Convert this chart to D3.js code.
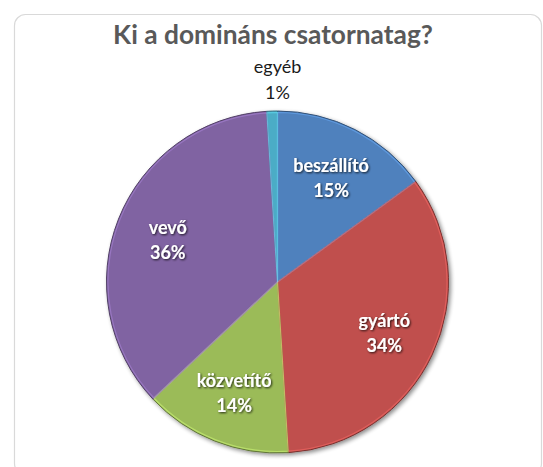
<!DOCTYPE html>
<html>
<head>
<meta charset="utf-8">
<script src="https://cdn.jsdelivr.net/npm/d3@7"></script>
<style>
  html, body { margin: 0; padding: 0; background: #fff; }
  svg { display: block; }
</style>
</head>
<body>
<svg id="chart" width="543" height="467"></svg>
<script>
// Channel members and their share (%), clockwise from 12 o'clock
const categories = ["beszállító", "gyártó", "közvetítő", "vevő", "egyéb"];
const shares = [15, 34, 14, 36, 1];
const labels = ["15%", "34%", "14%", "36%", "1%"];
const colors = ["#4F81BD", "#C0504D", "#9BBB59", "#8064A2", "#4BACC6"];
const title = "Ki a domináns csatornatag?";

const W = 543, H = 467;
const cx = 277.5, cy = 282, R = 171;
const FONT = "Lato, 'Open Sans', sans-serif";

const svg = d3.select("#chart");
const defs = svg.append("defs");

// soft shadow under the pie
const sh = defs.append("filter").attr("id", "pieShadow")
  .attr("x", "-10%").attr("y", "-10%").attr("width", "120%").attr("height", "120%");
sh.append("feGaussianBlur").attr("in", "SourceAlpha").attr("stdDeviation", 2.2).attr("result", "b");
sh.append("feOffset").attr("in", "b").attr("dx", 2).attr("dy", 2).attr("result", "o");
sh.append("feComponentTransfer").attr("in", "o").attr("result", "s")
  .append("feFuncA").attr("type", "linear").attr("slope", 0.45);
const m = sh.append("feMerge");
m.append("feMergeNode").attr("in", "s");
m.append("feMergeNode").attr("in", "SourceGraphic");

// text shadow for the white in-slice labels
const ts = defs.append("filter").attr("id", "txtShadow")
  .attr("x", "-20%").attr("y", "-30%").attr("width", "140%").attr("height", "160%");
ts.append("feGaussianBlur").attr("in", "SourceAlpha").attr("stdDeviation", 0.9).attr("result", "b");
ts.append("feOffset").attr("in", "b").attr("dx", 1).attr("dy", 1).attr("result", "o");
ts.append("feComponentTransfer").attr("in", "o").attr("result", "s")
  .append("feFuncA").attr("type", "linear").attr("slope", 0.8);
const tm = ts.append("feMerge");
tm.append("feMergeNode").attr("in", "s");
tm.append("feMergeNode").attr("in", "SourceGraphic");

// chart area frame
svg.append("rect")
  .attr("x", 14.5).attr("y", 14.5).attr("width", 527).attr("height", 460)
  .attr("rx", 11).attr("ry", 11)
  .attr("fill", "#fff").attr("stroke", "#d9d9d9").attr("stroke-width", 1.2);

// title, fitted to its width
const t = svg.append("text")
  .attr("x", 273).attr("y", 44)
  .attr("text-anchor", "middle")
  .attr("font-family", FONT)
  .attr("font-weight", "bold")
  .attr("font-size", 24)
  .attr("fill", "#595959")
  .text(title);
const tw = t.node().getComputedTextLength();
t.attr("font-size", 24 * 320 / tw);

const data = categories.map((c, i) => ({ cat: c, value: shares[i], label: labels[i], color: colors[i] }));

const pie = d3.pie().value(d => d.value).sort(null);
const arcs = pie(data);
const arc = d3.arc().innerRadius(0).outerRadius(R);

const g = svg.append("g").attr("transform", `translate(${cx},${cy})`);

g.append("g").attr("filter", "url(#pieShadow)")
  .selectAll("path").data(arcs).join("path")
  .attr("d", arc)
  .attr("fill", d => d.data.color)
  .attr("stroke", d => d3.color(d.data.color).darker(1.3))
  .attr("stroke-width", 1)
  .attr("stroke-linejoin", "round");

// light bevel highlight just inside each slice
const inner = d3.arc().innerRadius(0).outerRadius(R - 1.5);
g.append("g").selectAll("path").data(arcs).join("path")
  .attr("d", inner)
  .attr("fill", "none")
  .attr("stroke", d => d3.color(d.data.color).brighter(0.9))
  .attr("stroke-opacity", 0.5)
  .attr("stroke-width", 1.2);

// labels inside the slices
const labelArc = d3.arc().innerRadius(R * 0.69).outerRadius(R * 0.69);
const inside = arcs.filter(d => d.data.value >= 5);
const lg = g.append("g")
  .attr("font-family", FONT)
  .attr("font-weight", "bold")
  .attr("font-size", 18)
  .attr("fill", "#fff")
  .attr("text-anchor", "middle")
  .attr("filter", "url(#txtShadow)");
inside.forEach(d => {
  const [x, y] = labelArc.centroid(d);
  const tx = lg.append("text").attr("transform", `translate(${x},${y})`);
  tx.append("tspan").attr("x", 0).attr("y", -5).text(d.data.cat);
  tx.append("tspan").attr("x", 0).attr("y", 20).text(d.data.label);
});

// small slice labelled outside, above the pie
const outside = arcs.filter(d => d.data.value < 5);
outside.forEach(d => {
  const tx = g.append("text")
    .attr("font-family", FONT)
    .attr("font-size", 18)
    .attr("fill", "#1a1a1a")
    .attr("text-anchor", "middle");
  tx.append("tspan").attr("x", 0).attr("y", -R - 38).text(d.data.cat);
  tx.append("tspan").attr("x", 0).attr("y", -R - 12).text(d.data.label);
});
</script>
</body>
</html>
